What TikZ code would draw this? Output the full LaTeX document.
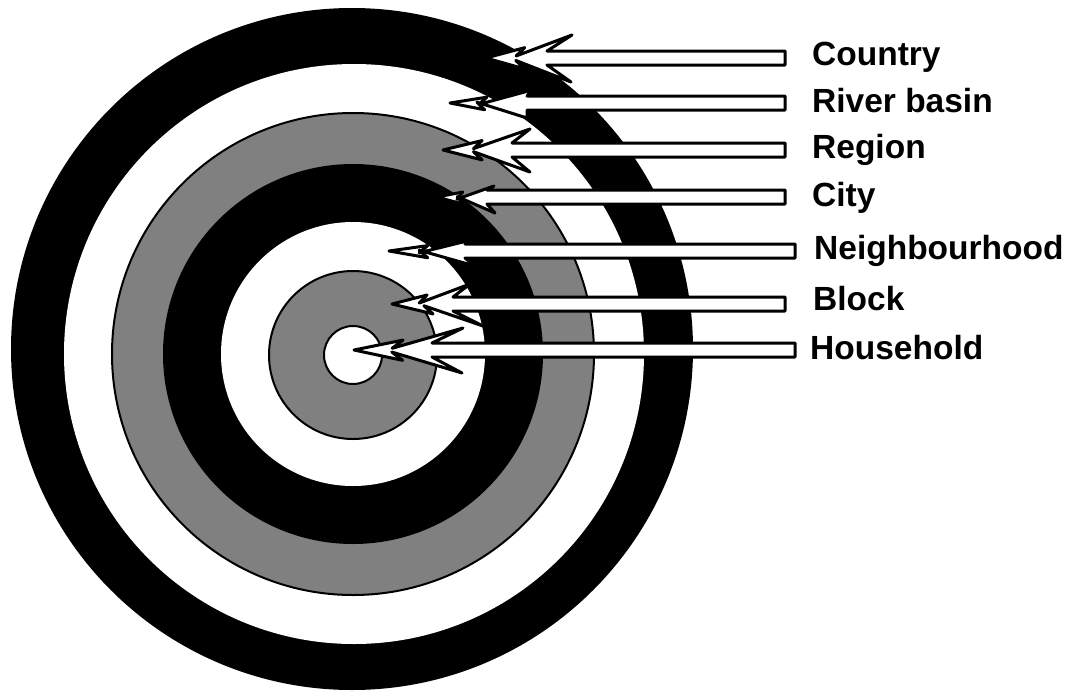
\documentclass[tikz,border=0pt]{standalone}
\usepackage{fontspec}
\setmainfont{Liberation Sans}
\usetikzlibrary{calc}
\tikzset{
  dartstyle/.style={fill=white,draw=black,line width=3pt,line join=round},
  grayring/.style={fill=black!50,draw=black,line width=2pt},
  lab/.style={anchor=base west,inner sep=0pt,font=\fontsize{33.5}{40}\selectfont\bfseries}
}
% #1 centre y, #2 shaft start x, #3 tip x, #4/#5 upper barb offset, #6/#7 lower barb offset, #8 shaft end x
\newcommand{\dartarrow}[8]{%
  \coordinate (T) at (#3,#1);
  \coordinate (U) at ({#2+#4},{#1+#5});
  \coordinate (L) at ({#2+#6},{#1+#7});
  \draw[dartstyle] (T) -- ($(T)!.45!(U)$) -- ($(T)!.35!(U)+(0,6)$) -- (U)
    -- (#2,{#1-7}) -- (#8,{#1-7}) -- (#8,{#1+7}) -- (#2,{#1+7}) -- (L)
    -- ($(T)!.35!(L)+(0,-6)$) -- ($(T)!.45!(L)$) -- cycle;
}
\begin{document}
\begin{tikzpicture}[x=1pt,y=-1pt]
\useasboundingbox (0,0) rectangle (1069,694);
\fill[white] (0,0) rectangle (1069,694);
% target rings
\fill[black] (352,349) circle (341);
\fill[white] (354,354) circle (290);
\draw[grayring] (353,354) circle (241);
\fill[black] (353,354) circle (190);
\fill[white] (353,354) circle (132);
\draw[grayring] (353,355) circle (84);
\draw[fill=white,draw=black,line width=2pt] (353,355) circle (29);
% arrows
\dartarrow{58}{547}{486}{25}{-23}{24}{24}{785}
\dartarrow{103}{527}{450}{5}{-13}{0}{15}{785}
\dartarrow{150}{512}{443}{18}{-21}{18}{22}{785}
\dartarrow{197}{487}{437}{7}{-11}{8}{16}{785}
\dartarrow{251}{465}{389}{10}{-12}{10}{15}{795}
\dartarrow{304}{453}{392}{17}{-20}{30}{22}{785}
\dartarrow{350}{432}{354}{31}{-22}{30}{23}{795}
% labels
\node[lab] (country) at (812,65) {Country};
\node[lab] (river) at (812,112) {River basin};
\node[lab] (region) at (812,158) {Region};
\node[lab] (city) at (812,206) {City};
\node[lab] (neigh) at (814,259) {Neighbourhood};
\node[lab] (block) at (813,310) {Block};
\node[lab] (house) at (810,359) {Household};
\end{tikzpicture}
\end{document}
